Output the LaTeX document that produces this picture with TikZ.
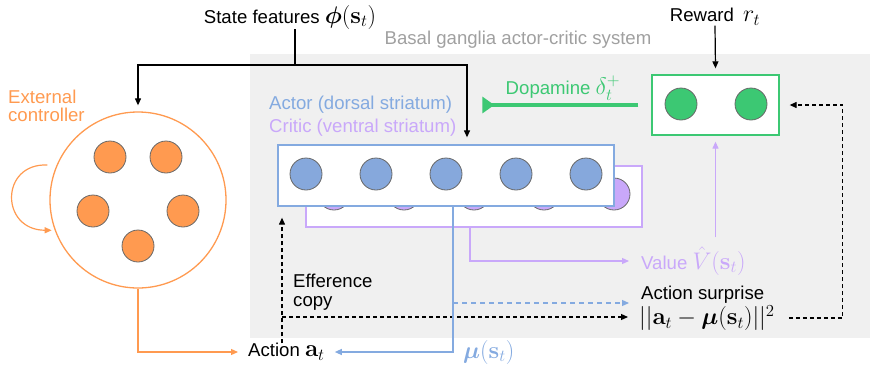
\documentclass[tikz,border=0pt]{standalone}
\usepackage{fix-cm}
\usepackage{amsmath}
\usepackage[no-math]{fontspec}
\setmainfont{Liberation Sans}
\usetikzlibrary{arrows.meta}

\definecolor{ctrlorange}{HTML}{FF9A50}
\definecolor{actorblue}{HTML}{86A8DC}
\definecolor{actorline}{HTML}{84AAE0}
\definecolor{criticpurple}{HTML}{C9A8FA}
\definecolor{rewardgreen}{HTML}{3CC873}
\definecolor{bggray}{HTML}{F0F0F0}
\definecolor{titlegray}{HTML}{A0A0A0}
\definecolor{cellborder}{HTML}{686868}

\newcommand{\bigmath}[1]{{\fontsize{24}{24}\selectfont$#1$}}

\tikzset{
  txt/.style={inner sep=0pt, font=\fontsize{18.6}{19}\selectfont},
  neuron/.style={circle, draw=cellborder, line width=0.8pt, minimum size=32pt, inner sep=0pt},
  layerbox/.style={draw, fill=white, line width=1.3pt, minimum width=336pt, minimum height=61pt, inner sep=0pt},
  arr/.style={line width=1.2pt, -{Triangle[length=7pt,width=6pt]}},
  dasharr/.style={arr, dash pattern=on 4pt off 3pt},
  orarr/.style={arr, draw=ctrlorange},
  bluearr/.style={arr, draw=actorline},
  bluedash/.style={bluearr, dash pattern=on 5pt off 4pt},
  purarr/.style={arr, draw=criticpurple},
  dopa/.style={draw=rewardgreen, line width=4pt, -{Triangle[reversed, length=12pt, width=16pt]}},
}

\begin{document}
\begin{tikzpicture}[x=1pt, y=-1pt]
    \useasboundingbox (0,0) rectangle (870,365);

    % Background
    \fill[bggray] (250,54) rectangle (870,338);
    \node[txt, text=titlegray] (bgtitle) at (518,40) {Basal ganglia actor-critic system};

    % Inputs
    \node[txt] (state) at (290,17) {State features \bigmath{\boldsymbol{\phi}(\mathbf{s}_t)}};
    \node[txt] (reward) at (715,17) {Reward \bigmath{\,r_t}};

    % External controller
    \node[circle, draw=ctrlorange, line width=1.3pt, minimum size=176pt, inner sep=0pt] (ext) at (138,200) {};
    \foreach \i/\x/\y in {1/110/157, 2/166/157, 3/93/211, 4/183/211, 5/138/246}
        \node[neuron, fill=ctrlorange] (e\i) at (\x,\y) {};
    \node[txt, text=ctrlorange, align=left, anchor=west, font=\fontsize{18.6}{17.5}\selectfont] (extlbl) at (8,106) {External\\controller};

    % Critic layer
    \node[layerbox, draw=criticpurple] (critic) at (474,196.5) {};
    \foreach \i in {1,...,5}
        \node[neuron, fill=criticpurple] (c\i) at (264+70*\i,194) {};

    % Actor layer
    \node[layerbox, draw=actorline] (actor) at (446,175.5) {};
    \foreach \i in {1,...,5}
        \node[neuron, fill=actorblue] (a\i) at (236+70*\i,174) {};

    \node[txt, text=actorline, anchor=west] (actorlbl) at (269,105) {Actor (dorsal striatum)};
    \node[txt, text=criticpurple, anchor=west] (criticlbl) at (269,128) {Critic (ventral striatum)};

    % Reward layer
    \node[layerbox, draw=rewardgreen, minimum width=127pt, minimum height=60pt] (rew) at (715.5,105) {};
    \node[neuron, fill=rewardgreen] (r1) at (681,104) {};
    \node[neuron, fill=rewardgreen] (r2) at (751,104) {};
    \node[txt, text=rewardgreen] (dopalbl) at (563,88) {Dopamine \bigmath{\delta_t^+}};

    % Labels
    \node[txt, anchor=west] (action) at (248,352) {Action \bigmath{\mathbf{a}_t}};
    \node[txt, text=actorline, anchor=west] (mu) at (463,352) {\bigmath{\boldsymbol{\mu}(\mathbf{s}_t)}};
    \node[txt, text=criticpurple, anchor=west] (value) at (641,261) {Value \bigmath{\hat{V}(\mathbf{s}_t)}};
    \node[txt, anchor=west] (surprise) at (641,295) {Action surprise};
    \node[txt, anchor=west] (sqerr) at (639,318) {\bigmath{||\mathbf{a}_t-\boldsymbol{\mu}(\mathbf{s}_t)||^2}};
    \node[txt, anchor=west, align=left] (effcopy) at (293,292) {Efference\\copy};

    % Arrows
    \coordinate (sfork) at (295,65);
    \draw[line width=1.2pt] (state.south -| sfork) -- (sfork);
    \draw[arr] (sfork) -| ([yshift=6pt]ext.north);
    \draw[arr] (sfork) -| ([xshift=21pt,yshift=7pt]actor.north);
    \draw[arr] (reward.south) -- ([yshift=6pt]rew.north);
    \draw[dopa] ([xshift=-13pt]rew.west) -- ++(-156,0);

    \draw[orarr, shorten <=9pt, shorten >=3pt] (ext.157) .. controls (0,163) and (0,230) .. (ext.200);
    \draw[orarr] (ext.south) |- ([xshift=-10pt]action.west);

    \coordinate (eff) at (282,317);
    \draw[dasharr, shorten >=11pt] (action.north -| eff) -- (eff |- actor.south);
    \draw[dasharr] (eff) -- ([xshift=-11pt]sqerr.west |- eff);

    \coordinate (mufork) at (453,303);
    \draw[bluearr] ([xshift=7pt]actor.south) |- ([xshift=10pt]action.east);
    \draw[bluedash] (mufork) -- ([xshift=-12pt]surprise.west |- mufork);

    \draw[purarr] ([xshift=-4pt]critic.south) |- ([xshift=-12pt]value.west);
    \draw[purarr, shorten <=9pt] (value.north -| rew.south) -- ([yshift=-6pt]rew.south);

    \draw[dasharr, shorten <=14pt] (sqerr.east) -- ++(68,0) |- ([xshift=10pt]rew.east);
\end{tikzpicture}
\end{document}
